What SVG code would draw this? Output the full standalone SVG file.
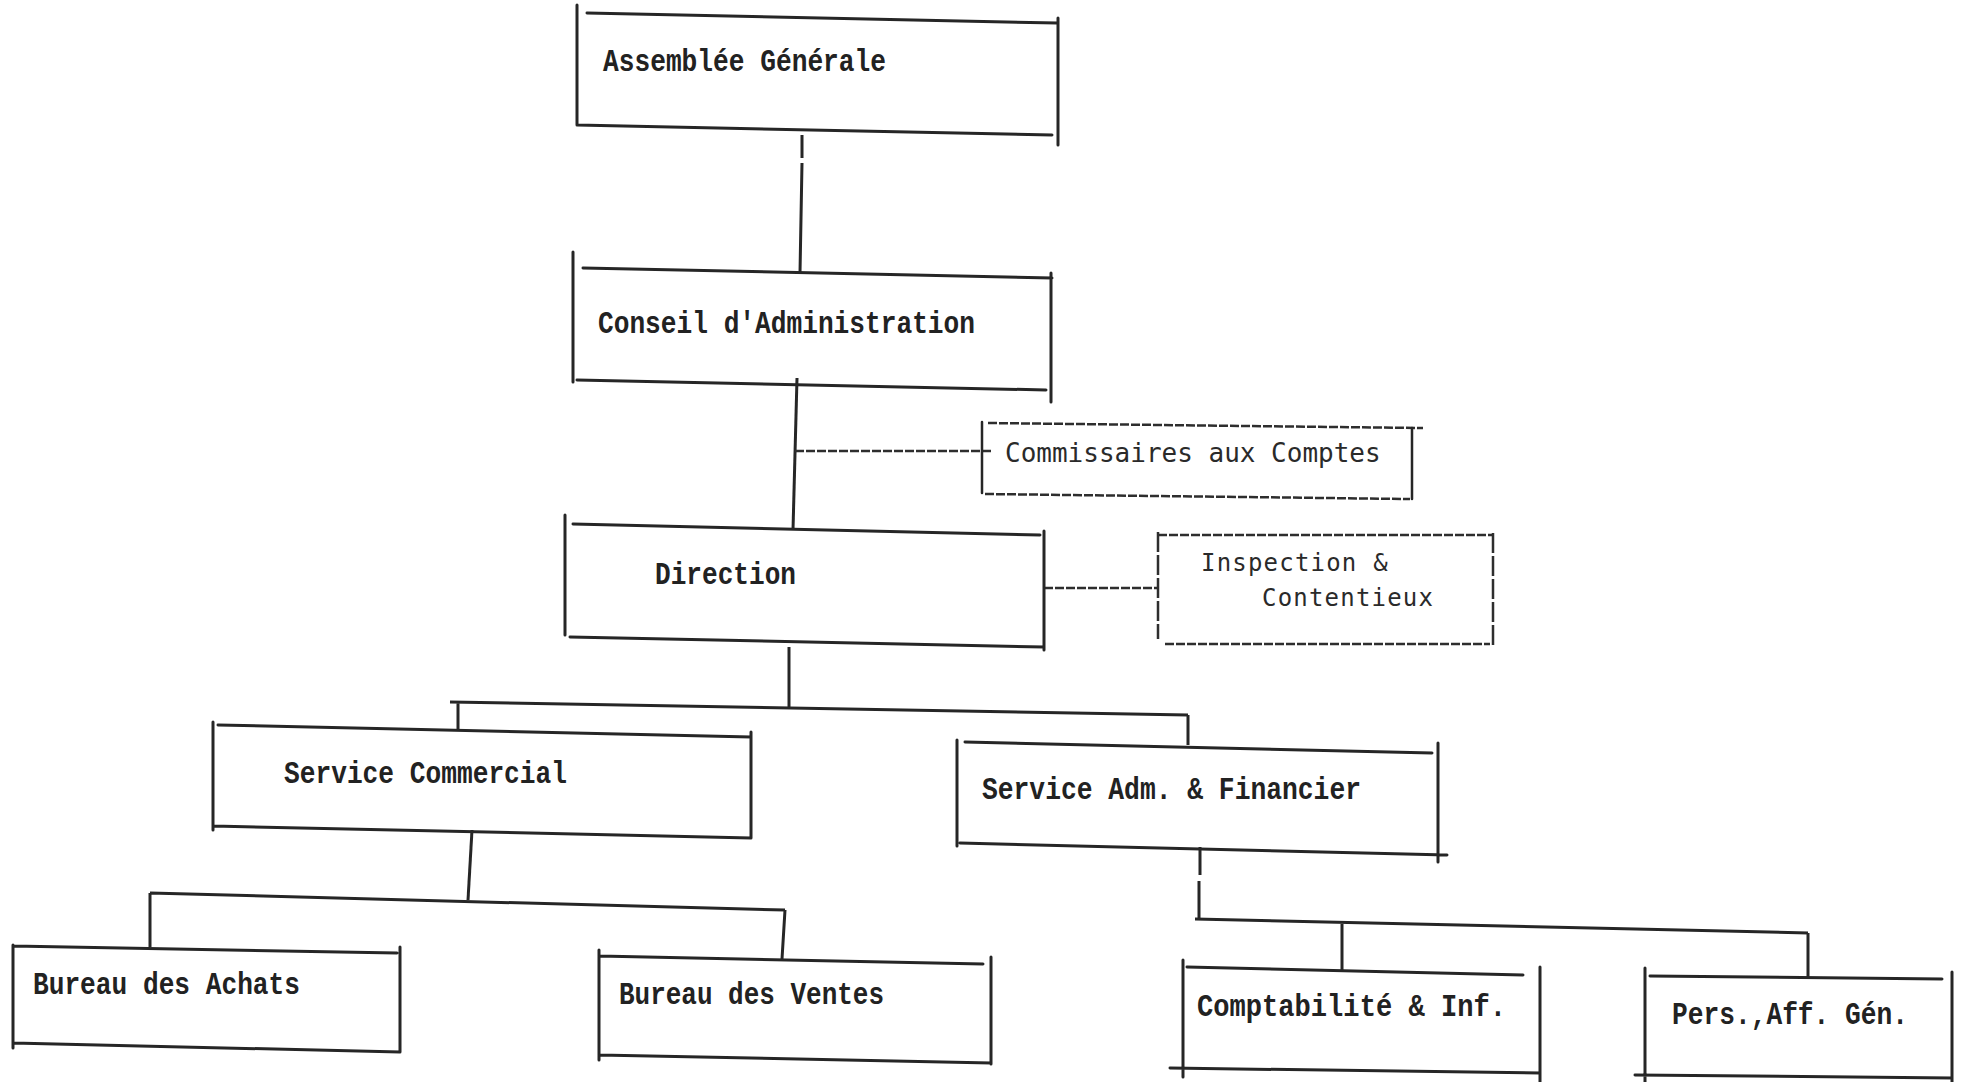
<svg xmlns="http://www.w3.org/2000/svg" width="1962" height="1082" viewBox="0 0 1962 1082">
<style>
  .box { fill: none; stroke: #262626; stroke-width: 3; stroke-linecap: round; }
  .dot { fill: none; stroke: #2e2e2e; stroke-width: 2.5; stroke-dasharray: 9 2; }
  .con { fill: none; stroke: #262626; stroke-width: 3; }
  .dcon { fill: none; stroke: #2e2e2e; stroke-width: 2.5; stroke-dasharray: 9 2; }
  .t { font-family: "Liberation Mono", "Courier New", monospace; font-weight: bold; font-size: 31px; fill: #222; }
  .m { font-family: "DejaVu Sans Mono", monospace; font-size: 26px; fill: #2a2a2a; }
  .s { font-family: "DejaVu Sans Mono", monospace; font-size: 24px; letter-spacing: 1.2px; fill: #2a2a2a; }
</style>
<rect width="1962" height="1082" fill="#ffffff"/>
<g id="connectors">
  <path class="con" d="M802,135 V158 M802,163 L800,273"/>
  <path class="con" d="M797,378 L793,530"/>
  <path class="dcon" d="M795,451 H992"/>
  <path class="dcon" d="M1044,588 H1158"/>
  <path class="con" d="M789,647 V708"/>
  <path class="con" d="M450,702 L1188,715 M458,702 V730 M1188,715 V745"/>
  <path class="con" d="M472,830 L468,900"/>
  <path class="con" d="M150,893 L785,910 M150,893 V947 M785,910 L782,959"/>
  <path class="con" d="M1200,847 V875 M1199,881 V919"/>
  <path class="con" d="M1195,919 L1808,933 M1342,923 V970 M1808,933 V978"/>
</g>
<g id="assemblee">
  <path class="box" d="M577,5 V125 M587,13 L1057,23 M1058,18 V145 M577,125 L1052,135"/>
  <text class="t" x="603" y="71" textLength="283" lengthAdjust="spacingAndGlyphs">Assemblée Générale</text>
</g>
<g id="conseil">
  <path class="box" d="M573,252 V382 M583,268 L1052,278 M1051,273 V402 M577,380 L1046,390"/>
  <text class="t" x="598" y="333" textLength="377" lengthAdjust="spacingAndGlyphs">Conseil d'Administration</text>
</g>
<g id="commissaires">
  <path class="dot" d="M988,423 L1423,428 M985,494 L1410,499"/>
  <path class="box" d="M982,422 V493 M1412,428 V499" style="stroke-width:2.5"/>
  <text class="m" x="1005" y="462">Commissaires aux Comptes</text>
</g>
<g id="direction">
  <path class="box" d="M565,515 V635 M573,524 L1040,535 M1044,531 V650 M570,637 L1044,647"/>
  <text class="t" x="655" y="584" textLength="141" lengthAdjust="spacingAndGlyphs">Direction</text>
</g>
<g id="inspection">
  <path class="dot" d="M1158,535 H1493 M1165,644 H1490"/>
  <path class="dot" d="M1158,532 V639 M1493,533 V647" style="stroke-dasharray:20 3"/>
  <text class="s" x="1201" y="571">Inspection &amp;</text>
  <text class="s" x="1262" y="606">Contentieux</text>
</g>
<g id="service-commercial">
  <path class="box" d="M213,722 V830 M218,725 L751,737 M751,732 V838 M213,826 L751,838"/>
  <text class="t" x="284" y="783" textLength="283" lengthAdjust="spacingAndGlyphs">Service Commercial</text>
</g>
<g id="service-adm">
  <path class="box" d="M957,740 V846 M965,742 L1432,753 M1438,743 V862 M960,843 L1447,855"/>
  <text class="t" x="982" y="799" textLength="379" lengthAdjust="spacingAndGlyphs">Service Adm. &amp; Financier</text>
</g>
<g id="bureau-achats">
  <path class="box" d="M13,945 V1048 M13,946 L397,953 M400,947 V1052 M13,1043 L400,1052"/>
  <text class="t" x="33" y="994" textLength="267" lengthAdjust="spacingAndGlyphs">Bureau des Achats</text>
</g>
<g id="bureau-ventes">
  <path class="box" d="M599,950 V1060 M599,956 L983,964 M991,957 V1064 M599,1055 L991,1063"/>
  <text class="t" x="619" y="1004" textLength="265" lengthAdjust="spacingAndGlyphs">Bureau des Ventes</text>
</g>
<g id="comptabilite">
  <path class="box" d="M1183,960 V1077 M1187,967 L1523,975 M1540,967 V1082 M1170,1068 L1540,1073"/>
  <text class="t" x="1197" y="1016" textLength="309" lengthAdjust="spacingAndGlyphs">Comptabilité &amp; Inf.</text>
</g>
<g id="personnel">
  <path class="box" d="M1645,968 V1082 M1650,976 L1942,979 M1952,972 V1082 M1635,1075 L1952,1078"/>
  <text class="t" x="1672" y="1024" textLength="236" lengthAdjust="spacingAndGlyphs">Pers.,Aff. Gén.</text>
</g>
</svg>
